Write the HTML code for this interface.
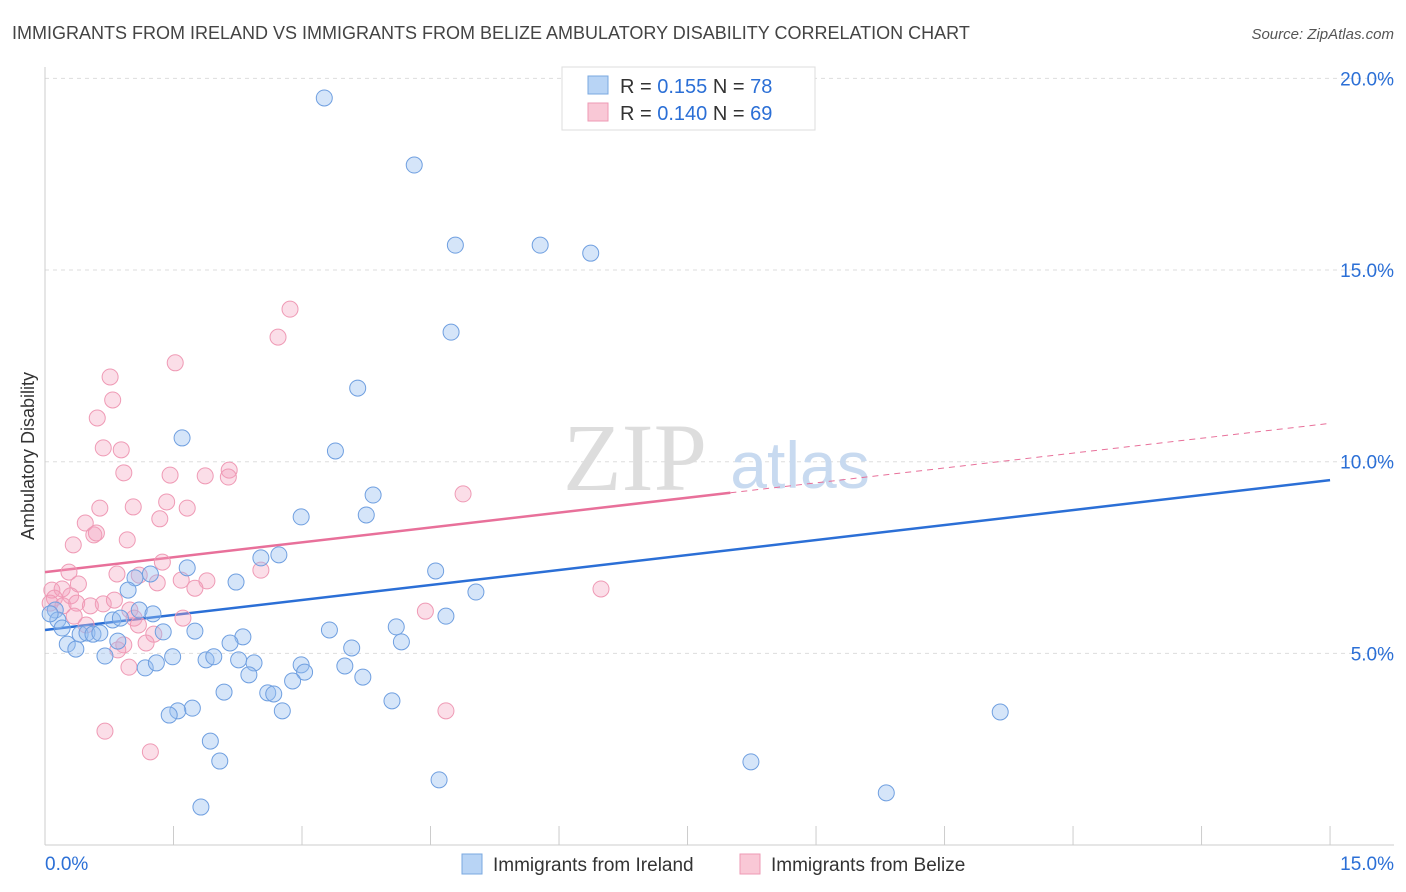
<!DOCTYPE html>
<html><head><meta charset="utf-8">
<style>
body{margin:0;background:#fff;font-family:"Liberation Sans",sans-serif;}
svg{display:block}
</style></head>
<body>
<svg id="chart" width="1406" height="892" xmlns="http://www.w3.org/2000/svg" font-family="Liberation Sans, sans-serif">
<text x="12" y="39" font-size="18" fill="#444">IMMIGRANTS FROM IRELAND VS IMMIGRANTS FROM BELIZE AMBULATORY DISABILITY CORRELATION CHART</text>
<text x="1394" y="39" font-size="15" fill="#555" text-anchor="end" font-style="italic">Source: ZipAtlas.com</text>
<text transform="translate(34,456) rotate(-90)" font-size="18" fill="#333" text-anchor="middle">Ambulatory Disability</text>
<g id="grid"></g>
<g id="wm">
<text x="635" y="490" font-size="96" fill="#ddd" font-family="Liberation Serif, serif" text-anchor="middle">ZIP</text>
<text x="800" y="488" font-size="66" fill="#c8daf0" text-anchor="middle">atlas</text>
</g>
<g id="axes"></g>
<g id="lines"></g>
<g id="pts"></g>
<g>
<rect x="562" y="67" width="253" height="63" fill="#fff" stroke="#ddd"/>
<rect x="588" y="76" width="20" height="18" fill="#b8d4f5" stroke="#7aa8e0"/>
<text x="620" y="93" font-size="20" fill="#333">R = <tspan fill="#2b6fd6">0.155</tspan>   N = <tspan fill="#2b6fd6">78</tspan></text>
<rect x="588" y="103" width="20" height="18" fill="#f9c8d6" stroke="#ee9ab4"/>
<text x="620" y="120" font-size="20" fill="#333">R = <tspan fill="#2b6fd6">0.140</tspan>   N = <tspan fill="#2b6fd6">69</tspan></text>
</g>
<g>
<rect x="462" y="854" width="20" height="20" fill="#b8d4f5" stroke="#7aa8e0"/>
<text x="493" y="871" font-size="19" fill="#333">Immigrants from Ireland</text>
<rect x="740" y="854" width="20" height="20" fill="#f9c8d6" stroke="#ee9ab4"/>
<text x="771" y="871" font-size="19" fill="#333">Immigrants from Belize</text>
</g>
</svg>
<script>
const yTicks=[5,10,15,20];
const xTickLabels=["0.0%","15.0%"];
const blueX=[3.26,4.31,4.79,5.78,6.37,4.74,3.65,1.60,3.39,3.83,3.75,2.99,2.73,2.52,4.56,1.66,2.23,5.03,1.23,1.05,0.97,1.10,1.26,0.79,0.88,4.68,0.12,0.15,0.06,0.20,0.41,0.49,0.56,0.64,0.26,0.36,0.85,1.38,1.75,2.31,2.16,3.32,4.10,4.16,3.58,0.70,1.17,1.30,1.49,1.88,1.97,2.26,2.44,2.38,2.99,3.03,3.50,3.71,2.89,2.09,2.60,2.67,2.77,4.05,1.72,1.55,1.45,1.93,2.04,1.82,4.60,8.24,11.15,9.82];
const blueY=[19.49,17.74,15.65,15.65,15.44,13.38,11.92,10.62,10.28,9.13,8.61,8.56,7.57,7.49,7.15,7.23,6.86,6.60,7.07,6.97,6.65,6.13,6.03,5.87,5.92,5.97,6.13,5.87,6.03,5.66,5.50,5.53,5.50,5.53,5.24,5.11,5.32,5.56,5.58,5.43,5.27,5.61,5.69,5.30,5.14,4.93,4.62,4.75,4.91,4.83,4.91,4.83,4.75,4.44,4.70,4.51,4.67,4.38,4.28,3.99,3.97,3.94,3.50,3.76,3.57,3.50,3.39,2.71,2.19,0.99,1.70,2.17,3.47,1.36];
const pinkX=[2.86,2.72,1.52,0.76,0.79,0.61,0.68,0.89,0.92,1.46,2.15,1.87,2.14,4.88,1.42,0.64,1.03,1.66,1.34,0.47,0.57,0.60,0.96,0.33,1.37,2.52,0.28,0.84,1.10,1.31,1.59,1.89,1.75,0.39,0.08,0.20,0.30,0.11,0.06,0.21,0.37,0.53,0.68,0.81,0.99,0.34,1.04,1.61,0.48,1.09,1.27,1.18,0.92,0.85,0.98,4.44,6.49,4.68,0.70,1.23];
const pinkY=[13.98,13.25,12.58,12.21,11.61,11.14,10.36,10.31,9.71,9.65,9.78,9.63,9.60,9.16,8.95,8.79,8.82,8.79,8.51,8.40,8.09,8.14,7.96,7.83,7.38,7.17,7.12,7.07,7.04,6.84,6.91,6.89,6.70,6.81,6.65,6.68,6.50,6.44,6.31,6.24,6.31,6.24,6.29,6.39,6.13,5.97,5.92,5.92,5.74,5.74,5.50,5.27,5.22,5.09,4.64,6.10,6.68,3.50,2.97,2.43];
const blueTrend=[5.61,9.52];
const pinkTrend=[7.12,11.0];
const pinkSolidEnd=8.0;
const NS="http://www.w3.org/2000/svg";
const X=v=>45+v*85.67, Y=v=>845-v*38.33;
function mk(tag,attrs,parent){const e=document.createElementNS(NS,tag);for(const k in attrs)e.setAttribute(k,attrs[k]);document.getElementById(parent).appendChild(e);return e;}
yTicks.forEach(t=>{
 const l=mk('line',{x1:45,x2:1394,y1:Y(t),y2:Y(t),stroke:'#ddd','stroke-dasharray':'4,4'},'grid');
 
 
 const tx=mk('text',{x:1394,y:Y(t)+7,'font-size':19,fill:'#2b6fd6','text-anchor':'end'},'axes');
 tx.textContent=t.toFixed(1)+'%';
 
 
});
mk('line',{x1:45,x2:45,y1:67,y2:845,stroke:'#ccc'},'axes');
mk('line',{x1:45,x2:1394,y1:845,y2:845,stroke:'#ccc'},'axes');
for(let i=0;i<=10;i++){const l=mk('line',{x1:X(i*1.5),x2:X(i*1.5),y1:826,y2:845,stroke:'#ccc'},'axes');
 
 }
const t0=mk('text',{x:45,y:870,'font-size':19,fill:'#2b6fd6'},'axes');t0.textContent=xTickLabels[0];


const t1=mk('text',{x:1394,y:870,'font-size':19,fill:'#2b6fd6','text-anchor':'end'},'axes');t1.textContent=xTickLabels[1];


pinkX.forEach((x,i)=>{const c=mk('circle',{cx:X(x),cy:Y(pinkY[i]),r:8,fill:'rgba(244,160,188,0.35)',stroke:'#ef9ab5','stroke-width':1},'pts');
 
 });
blueX.forEach((x,i)=>{const c=mk('circle',{cx:X(x),cy:Y(blueY[i]),r:8,fill:'rgba(150,190,240,0.4)',stroke:'#6f9fe0','stroke-width':1},'pts');
 
 });
const bl=mk('line',{x1:X(0),y1:Y(blueTrend[0]),x2:X(15),y2:Y(blueTrend[1]),stroke:'#2b6fd6','stroke-width':2.5},'lines');


const pv=x=>pinkTrend[0]+(pinkTrend[1]-pinkTrend[0])*x/15;
const pl=mk('line',{x1:X(0),y1:Y(pinkTrend[0]),x2:X(pinkSolidEnd),y2:Y(pv(pinkSolidEnd)),stroke:'#e8709a','stroke-width':2.5},'lines');


const pd=mk('line',{x1:X(pinkSolidEnd),y1:Y(pv(pinkSolidEnd)),x2:X(15),y2:Y(pinkTrend[1]),stroke:'#e8709a','stroke-width':1,'stroke-dasharray':'6,5'},'lines');


</script>
</body></html>
